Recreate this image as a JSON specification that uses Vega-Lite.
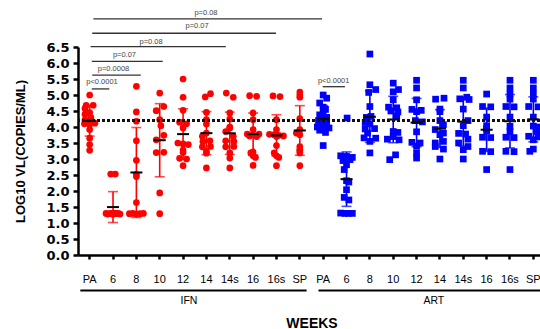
{
  "$schema": "https://vega.github.io/schema/vega-lite/v6.json",
  "width": 467,
  "height": 208,
  "autosize": {"type": "none"},
  "padding": {"left": 78, "top": 47, "right": 0, "bottom": 74},
  "config": {
    "view": {"stroke": null},
    "axis": {"grid": false, "domainColor": "black", "tickColor": "black", "labelColor": "black", "titleColor": "black"},
    "axisX": {"labelFont": "Liberation Sans", "labelFontSize": 11, "labelPadding": 14, "tickSize": 4, "tickWidth": 2.5, "domainWidth": 2.5, "labelAngle": 0, "labelOverlap": false, "labelBound": false, "titleFont": "Liberation Sans", "titleFontSize": 14, "titleFontWeight": "bold", "titlePadding": 32},
    "axisY": {"labelFont": "DejaVu Sans", "labelFontWeight": "bold", "labelFontSize": 13, "labelPadding": 4, "tickSize": 5, "tickWidth": 2.5, "domainWidth": 2.5, "labelOverlap": false, "titleFont": "Liberation Sans", "titleFontSize": 13, "titleFontWeight": "bold", "titlePadding": 18}
  },
  "datasets": {
    "pts": [
      {"g":"IFN","c":"IFN|PA","v":5.0,"j":0},{"g":"IFN","c":"IFN|PA","v":4.68,"j":-0.3},{"g":"IFN","c":"IFN|PA","v":4.68,"j":0.3},{"g":"IFN","c":"IFN|PA","v":4.58,"j":-0.4},{"g":"IFN","c":"IFN|PA","v":4.45,"j":0},{"g":"IFN","c":"IFN|PA","v":4.4,"j":-0.4},{"g":"IFN","c":"IFN|PA","v":4.3,"j":0.1},{"g":"IFN","c":"IFN|PA","v":4.22,"j":-0.4},{"g":"IFN","c":"IFN|PA","v":4.1,"j":-0.45},{"g":"IFN","c":"IFN|PA","v":4.12,"j":0.45},{"g":"IFN","c":"IFN|PA","v":4.08,"j":0},{"g":"IFN","c":"IFN|PA","v":3.92,"j":0},{"g":"IFN","c":"IFN|PA","v":3.65,"j":0},{"g":"IFN","c":"IFN|PA","v":3.45,"j":0},{"g":"IFN","c":"IFN|PA","v":3.27,"j":0},
      {"g":"IFN","c":"IFN|6","v":2.53,"j":-0.2},{"g":"IFN","c":"IFN|6","v":2.53,"j":0.2},{"g":"IFN","c":"IFN|6","v":1.3,"j":-0.6},{"g":"IFN","c":"IFN|6","v":1.28,"j":-0.45},{"g":"IFN","c":"IFN|6","v":1.29,"j":-0.3},{"g":"IFN","c":"IFN|6","v":1.3,"j":-0.15},{"g":"IFN","c":"IFN|6","v":1.27,"j":0},{"g":"IFN","c":"IFN|6","v":1.31,"j":0.15},{"g":"IFN","c":"IFN|6","v":1.29,"j":0.3},{"g":"IFN","c":"IFN|6","v":1.3,"j":0.45},{"g":"IFN","c":"IFN|6","v":1.28,"j":0.6},{"g":"IFN","c":"IFN|6","v":1.29,"j":0},
      {"g":"IFN","c":"IFN|8","v":5.27,"j":0},{"g":"IFN","c":"IFN|8","v":4.47,"j":0},{"g":"IFN","c":"IFN|8","v":4.18,"j":0},{"g":"IFN","c":"IFN|8","v":3.57,"j":0},{"g":"IFN","c":"IFN|8","v":2.96,"j":0},{"g":"IFN","c":"IFN|8","v":2.52,"j":0},{"g":"IFN","c":"IFN|8","v":2.45,"j":0},{"g":"IFN","c":"IFN|8","v":1.64,"j":0},{"g":"IFN","c":"IFN|8","v":1.29,"j":-0.6},{"g":"IFN","c":"IFN|8","v":1.3,"j":-0.3},{"g":"IFN","c":"IFN|8","v":1.28,"j":0},{"g":"IFN","c":"IFN|8","v":1.29,"j":0.3},{"g":"IFN","c":"IFN|8","v":1.3,"j":0.6},
      {"g":"IFN","c":"IFN|10","v":5.06,"j":0},{"g":"IFN","c":"IFN|10","v":4.64,"j":0.35},{"g":"IFN","c":"IFN|10","v":4.51,"j":-0.3},{"g":"IFN","c":"IFN|10","v":4.23,"j":0},{"g":"IFN","c":"IFN|10","v":4.04,"j":0.1},{"g":"IFN","c":"IFN|10","v":3.74,"j":0.35},{"g":"IFN","c":"IFN|10","v":3.6,"j":-0.3},{"g":"IFN","c":"IFN|10","v":3.21,"j":0.35},{"g":"IFN","c":"IFN|10","v":3.2,"j":-0.3},{"g":"IFN","c":"IFN|10","v":1.94,"j":0},{"g":"IFN","c":"IFN|10","v":1.29,"j":0},
      {"g":"IFN","c":"IFN|12","v":5.5,"j":0},{"g":"IFN","c":"IFN|12","v":4.93,"j":0},{"g":"IFN","c":"IFN|12","v":4.52,"j":0},{"g":"IFN","c":"IFN|12","v":4.15,"j":-0.3},{"g":"IFN","c":"IFN|12","v":4.1,"j":0.3},{"g":"IFN","c":"IFN|12","v":3.97,"j":0},{"g":"IFN","c":"IFN|12","v":3.5,"j":-0.45},{"g":"IFN","c":"IFN|12","v":3.47,"j":0},{"g":"IFN","c":"IFN|12","v":3.45,"j":0.45},{"g":"IFN","c":"IFN|12","v":3.28,"j":0},{"g":"IFN","c":"IFN|12","v":3.2,"j":0},{"g":"IFN","c":"IFN|12","v":3.02,"j":-0.3},{"g":"IFN","c":"IFN|12","v":3.0,"j":0.3},{"g":"IFN","c":"IFN|12","v":2.79,"j":0},
      {"g":"IFN","c":"IFN|14","v":5.04,"j":0.35},{"g":"IFN","c":"IFN|14","v":4.94,"j":-0.1},{"g":"IFN","c":"IFN|14","v":4.46,"j":0},{"g":"IFN","c":"IFN|14","v":4.23,"j":0},{"g":"IFN","c":"IFN|14","v":4.09,"j":0},{"g":"IFN","c":"IFN|14","v":3.81,"j":0},{"g":"IFN","c":"IFN|14","v":3.71,"j":-0.35},{"g":"IFN","c":"IFN|14","v":3.57,"j":0.3},{"g":"IFN","c":"IFN|14","v":3.55,"j":-0.3},{"g":"IFN","c":"IFN|14","v":3.39,"j":0.35},{"g":"IFN","c":"IFN|14","v":3.38,"j":-0.35},{"g":"IFN","c":"IFN|14","v":3.24,"j":0},{"g":"IFN","c":"IFN|14","v":3.18,"j":0},{"g":"IFN","c":"IFN|14","v":2.72,"j":0},
      {"g":"IFN","c":"IFN|14s","v":5.06,"j":-0.3},{"g":"IFN","c":"IFN|14s","v":4.93,"j":0.3},{"g":"IFN","c":"IFN|14s","v":4.44,"j":0},{"g":"IFN","c":"IFN|14s","v":4.25,"j":0},{"g":"IFN","c":"IFN|14s","v":4.0,"j":0},{"g":"IFN","c":"IFN|14s","v":3.97,"j":0},{"g":"IFN","c":"IFN|14s","v":3.86,"j":-0.35},{"g":"IFN","c":"IFN|14s","v":3.71,"j":0.3},{"g":"IFN","c":"IFN|14s","v":3.57,"j":-0.35},{"g":"IFN","c":"IFN|14s","v":3.55,"j":0.35},{"g":"IFN","c":"IFN|14s","v":3.39,"j":0.35},{"g":"IFN","c":"IFN|14s","v":3.38,"j":-0.35},{"g":"IFN","c":"IFN|14s","v":3.19,"j":0},{"g":"IFN","c":"IFN|14s","v":3.03,"j":0},{"g":"IFN","c":"IFN|14s","v":2.72,"j":0},
      {"g":"IFN","c":"IFN|16","v":4.98,"j":-0.3},{"g":"IFN","c":"IFN|16","v":4.96,"j":0.3},{"g":"IFN","c":"IFN|16","v":4.44,"j":0},{"g":"IFN","c":"IFN|16","v":4.23,"j":0},{"g":"IFN","c":"IFN|16","v":3.92,"j":0},{"g":"IFN","c":"IFN|16","v":3.78,"j":-0.5},{"g":"IFN","c":"IFN|16","v":3.78,"j":0.5},{"g":"IFN","c":"IFN|16","v":3.76,"j":0},{"g":"IFN","c":"IFN|16","v":3.72,"j":-0.3},{"g":"IFN","c":"IFN|16","v":3.7,"j":0.3},{"g":"IFN","c":"IFN|16","v":3.22,"j":0},{"g":"IFN","c":"IFN|16","v":3.19,"j":-0.2},{"g":"IFN","c":"IFN|16","v":3.1,"j":0},{"g":"IFN","c":"IFN|16","v":3.05,"j":0.2},{"g":"IFN","c":"IFN|16","v":2.8,"j":0},
      {"g":"IFN","c":"IFN|16s","v":4.97,"j":-0.3},{"g":"IFN","c":"IFN|16s","v":4.95,"j":0.3},{"g":"IFN","c":"IFN|16s","v":4.23,"j":0},{"g":"IFN","c":"IFN|16s","v":3.92,"j":0},{"g":"IFN","c":"IFN|16s","v":3.77,"j":-0.6},{"g":"IFN","c":"IFN|16s","v":3.76,"j":-0.2},{"g":"IFN","c":"IFN|16s","v":3.74,"j":0.2},{"g":"IFN","c":"IFN|16s","v":3.72,"j":0.6},{"g":"IFN","c":"IFN|16s","v":3.7,"j":0},{"g":"IFN","c":"IFN|16s","v":3.42,"j":0},{"g":"IFN","c":"IFN|16s","v":3.19,"j":-0.2},{"g":"IFN","c":"IFN|16s","v":3.1,"j":0},{"g":"IFN","c":"IFN|16s","v":3.05,"j":0.2},{"g":"IFN","c":"IFN|16s","v":2.79,"j":0},
      {"g":"IFN","c":"IFN|SP","v":5.09,"j":0},{"g":"IFN","c":"IFN|SP","v":5.0,"j":0},{"g":"IFN","c":"IFN|SP","v":4.93,"j":0},{"g":"IFN","c":"IFN|SP","v":4.26,"j":0},{"g":"IFN","c":"IFN|SP","v":3.92,"j":0},{"g":"IFN","c":"IFN|SP","v":3.81,"j":-0.3},{"g":"IFN","c":"IFN|SP","v":3.76,"j":0},{"g":"IFN","c":"IFN|SP","v":3.39,"j":0},{"g":"IFN","c":"IFN|SP","v":3.3,"j":0},{"g":"IFN","c":"IFN|SP","v":3.26,"j":0},{"g":"IFN","c":"IFN|SP","v":3.19,"j":0},{"g":"IFN","c":"IFN|SP","v":2.79,"j":0},
      {"g":"ART","c":"ART|PA","v":5.0,"j":0},{"g":"ART","c":"ART|PA","v":4.9,"j":0.3},{"g":"ART","c":"ART|PA","v":4.75,"j":-0.3},{"g":"ART","c":"ART|PA","v":4.62,"j":0},{"g":"ART","c":"ART|PA","v":4.55,"j":0.2},{"g":"ART","c":"ART|PA","v":4.5,"j":0},{"g":"ART","c":"ART|PA","v":4.38,"j":-0.3},{"g":"ART","c":"ART|PA","v":4.3,"j":0.3},{"g":"ART","c":"ART|PA","v":4.25,"j":0},{"g":"ART","c":"ART|PA","v":4.2,"j":-0.4},{"g":"ART","c":"ART|PA","v":4.15,"j":0.3},{"g":"ART","c":"ART|PA","v":4.08,"j":0},{"g":"ART","c":"ART|PA","v":4.0,"j":-0.5},{"g":"ART","c":"ART|PA","v":3.97,"j":0.5},{"g":"ART","c":"ART|PA","v":3.95,"j":0},{"g":"ART","c":"ART|PA","v":3.9,"j":-0.3},{"g":"ART","c":"ART|PA","v":3.83,"j":0.2},{"g":"ART","c":"ART|PA","v":3.42,"j":0},
      {"g":"ART","c":"ART|6","v":4.28,"j":0.05},{"g":"ART","c":"ART|6","v":3.1,"j":-0.5},{"g":"ART","c":"ART|6","v":3.08,"j":0},{"g":"ART","c":"ART|6","v":3.05,"j":0.5},{"g":"ART","c":"ART|6","v":2.98,"j":0.3},{"g":"ART","c":"ART|6","v":2.95,"j":-0.3},{"g":"ART","c":"ART|6","v":2.82,"j":0},{"g":"ART","c":"ART|6","v":2.67,"j":-0.2},{"g":"ART","c":"ART|6","v":2.32,"j":0},{"g":"ART","c":"ART|6","v":2.28,"j":0.2},{"g":"ART","c":"ART|6","v":2.04,"j":0},{"g":"ART","c":"ART|6","v":1.8,"j":-0.2},{"g":"ART","c":"ART|6","v":1.72,"j":0.2},{"g":"ART","c":"ART|6","v":1.31,"j":-0.5},{"g":"ART","c":"ART|6","v":1.3,"j":-0.15},{"g":"ART","c":"ART|6","v":1.3,"j":0.15},{"g":"ART","c":"ART|6","v":1.3,"j":0.5},
      {"g":"ART","c":"ART|8","v":6.28,"j":0},{"g":"ART","c":"ART|8","v":5.32,"j":0},{"g":"ART","c":"ART|8","v":5.17,"j":0.5},{"g":"ART","c":"ART|8","v":5.08,"j":-0.1},{"g":"ART","c":"ART|8","v":4.64,"j":0},{"g":"ART","c":"ART|8","v":4.33,"j":0.1},{"g":"ART","c":"ART|8","v":4.3,"j":-0.3},{"g":"ART","c":"ART|8","v":4.14,"j":-0.4},{"g":"ART","c":"ART|8","v":4.1,"j":0},{"g":"ART","c":"ART|8","v":3.95,"j":0.4},{"g":"ART","c":"ART|8","v":3.94,"j":-0.4},{"g":"ART","c":"ART|8","v":3.81,"j":-0.2},{"g":"ART","c":"ART|8","v":3.66,"j":-0.5},{"g":"ART","c":"ART|8","v":3.65,"j":0.5},{"g":"ART","c":"ART|8","v":3.55,"j":0},{"g":"ART","c":"ART|8","v":3.19,"j":0},
      {"g":"ART","c":"ART|10","v":5.37,"j":0},{"g":"ART","c":"ART|10","v":5.17,"j":0.45},{"g":"ART","c":"ART|10","v":5.1,"j":0},{"g":"ART","c":"ART|10","v":4.85,"j":0},{"g":"ART","c":"ART|10","v":4.62,"j":-0.4},{"g":"ART","c":"ART|10","v":4.6,"j":0.3},{"g":"ART","c":"ART|10","v":4.5,"j":-0.2},{"g":"ART","c":"ART|10","v":4.47,"j":0.4},{"g":"ART","c":"ART|10","v":4.35,"j":0.3},{"g":"ART","c":"ART|10","v":3.86,"j":0},{"g":"ART","c":"ART|10","v":3.83,"j":0.4},{"g":"ART","c":"ART|10","v":3.7,"j":0},{"g":"ART","c":"ART|10","v":3.62,"j":-0.5},{"g":"ART","c":"ART|10","v":3.6,"j":0.5},{"g":"ART","c":"ART|10","v":3.13,"j":0.2},{"g":"ART","c":"ART|10","v":2.98,"j":-0.3},
      {"g":"ART","c":"ART|12","v":5.46,"j":0},{"g":"ART","c":"ART|12","v":5.22,"j":0},{"g":"ART","c":"ART|12","v":4.85,"j":0},{"g":"ART","c":"ART|12","v":4.55,"j":-0.4},{"g":"ART","c":"ART|12","v":4.52,"j":0.4},{"g":"ART","c":"ART|12","v":4.48,"j":0},{"g":"ART","c":"ART|12","v":4.2,"j":-0.1},{"g":"ART","c":"ART|12","v":4.16,"j":0.5},{"g":"ART","c":"ART|12","v":3.85,"j":0},{"g":"ART","c":"ART|12","v":3.52,"j":-0.4},{"g":"ART","c":"ART|12","v":3.5,"j":0.3},{"g":"ART","c":"ART|12","v":3.4,"j":0},{"g":"ART","c":"ART|12","v":3.19,"j":0},{"g":"ART","c":"ART|12","v":3.03,"j":0},
      {"g":"ART","c":"ART|14","v":4.9,"j":0.35},{"g":"ART","c":"ART|14","v":4.87,"j":-0.37},{"g":"ART","c":"ART|14","v":4.56,"j":0},{"g":"ART","c":"ART|14","v":4.48,"j":0},{"g":"ART","c":"ART|14","v":4.2,"j":0},{"g":"ART","c":"ART|14","v":4.07,"j":0.3},{"g":"ART","c":"ART|14","v":3.92,"j":-0.4},{"g":"ART","c":"ART|14","v":3.81,"j":0.3},{"g":"ART","c":"ART|14","v":3.76,"j":0},{"g":"ART","c":"ART|14","v":3.55,"j":0.3},{"g":"ART","c":"ART|14","v":3.5,"j":-0.4},{"g":"ART","c":"ART|14","v":3.39,"j":-0.4},{"g":"ART","c":"ART|14","v":3.31,"j":0.3},{"g":"ART","c":"ART|14","v":3.0,"j":0},
      {"g":"ART","c":"ART|14s","v":5.46,"j":0},{"g":"ART","c":"ART|14s","v":5.22,"j":0},{"g":"ART","c":"ART|14s","v":4.93,"j":0.3},{"g":"ART","c":"ART|14s","v":4.88,"j":-0.3},{"g":"ART","c":"ART|14s","v":4.86,"j":0.5},{"g":"ART","c":"ART|14s","v":4.56,"j":0},{"g":"ART","c":"ART|14s","v":4.2,"j":0.4},{"g":"ART","c":"ART|14s","v":4.04,"j":0},{"g":"ART","c":"ART|14s","v":3.8,"j":-0.4},{"g":"ART","c":"ART|14s","v":3.78,"j":0.2},{"g":"ART","c":"ART|14s","v":3.62,"j":0.4},{"g":"ART","c":"ART|14s","v":3.5,"j":-0.4},{"g":"ART","c":"ART|14s","v":3.39,"j":0.4},{"g":"ART","c":"ART|14s","v":3.29,"j":0},{"g":"ART","c":"ART|14s","v":3.0,"j":0},
      {"g":"ART","c":"ART|16","v":5.03,"j":0},{"g":"ART","c":"ART|16","v":4.64,"j":-0.35},{"g":"ART","c":"ART|16","v":4.63,"j":0.35},{"g":"ART","c":"ART|16","v":4.31,"j":0},{"g":"ART","c":"ART|16","v":4.04,"j":0},{"g":"ART","c":"ART|16","v":3.95,"j":0},{"g":"ART","c":"ART|16","v":3.88,"j":0},{"g":"ART","c":"ART|16","v":3.68,"j":-0.35},{"g":"ART","c":"ART|16","v":3.67,"j":0.35},{"g":"ART","c":"ART|16","v":3.24,"j":-0.35},{"g":"ART","c":"ART|16","v":3.23,"j":0.35},{"g":"ART","c":"ART|16","v":2.67,"j":0},
      {"g":"ART","c":"ART|16s","v":5.46,"j":0},{"g":"ART","c":"ART|16s","v":5.22,"j":0},{"g":"ART","c":"ART|16s","v":5.03,"j":0},{"g":"ART","c":"ART|16s","v":4.87,"j":0},{"g":"ART","c":"ART|16s","v":4.64,"j":-0.35},{"g":"ART","c":"ART|16s","v":4.63,"j":0.35},{"g":"ART","c":"ART|16s","v":4.31,"j":0},{"g":"ART","c":"ART|16s","v":4.02,"j":0},{"g":"ART","c":"ART|16s","v":3.86,"j":0},{"g":"ART","c":"ART|16s","v":3.68,"j":-0.35},{"g":"ART","c":"ART|16s","v":3.67,"j":0.35},{"g":"ART","c":"ART|16s","v":3.24,"j":-0.35},{"g":"ART","c":"ART|16s","v":3.23,"j":0.35},{"g":"ART","c":"ART|16s","v":2.67,"j":0},
      {"g":"ART","c":"ART|SP","v":5.46,"j":0},{"g":"ART","c":"ART|SP","v":5.22,"j":0},{"g":"ART","c":"ART|SP","v":5.03,"j":0},{"g":"ART","c":"ART|SP","v":4.87,"j":0},{"g":"ART","c":"ART|SP","v":4.64,"j":-0.4},{"g":"ART","c":"ART|SP","v":4.63,"j":0.4},{"g":"ART","c":"ART|SP","v":4.31,"j":0},{"g":"ART","c":"ART|SP","v":4.03,"j":0},{"g":"ART","c":"ART|SP","v":4.0,"j":0.4},{"g":"ART","c":"ART|SP","v":3.86,"j":0.3},{"g":"ART","c":"ART|SP","v":3.71,"j":-0.4},{"g":"ART","c":"ART|SP","v":3.69,"j":0.4},{"g":"ART","c":"ART|SP","v":3.6,"j":0},{"g":"ART","c":"ART|SP","v":3.31,"j":0},{"g":"ART","c":"ART|SP","v":3.24,"j":-0.3}
    ],
    "br": [
      {"a":0.09,"b":0.84,"y":5.19,"t":"p<0.0001","tx":0.53,"ty":5.42},
      {"a":0.11,"b":2.19,"y":5.62,"t":"p=0.0008","tx":1.02,"ty":5.81},
      {"a":0.09,"b":3.13,"y":6.05,"t":"p=0.07","tx":1.49,"ty":6.25},
      {"a":0.04,"b":5.83,"y":6.51,"t":"p=0.08","tx":2.63,"ty":6.67},
      {"a":0.11,"b":7.98,"y":6.93,"t":"p=0.07","tx":4.6,"ty":7.16},
      {"a":0.16,"b":9.95,"y":7.38,"t":"p=0.08","tx":4.98,"ty":7.55},
      {"a":9.98,"b":10.93,"y":5.26,"t":"p<0.0001","tx":10.45,"ty":5.45}
    ],
    "gr": [
      {"a":-0.4,"b":9.29,"y":-1.11,"t":"IFN","tx":4.25,"ty":-1.43},
      {"a":9.8,"b":19.5,"y":-1.11,"t":"ART","tx":14.74,"ty":-1.43}
    ]
  },
  "resolve": {"scale": {"x": "independent"}, "axis": {"x": "independent"}},
  "layer": [
    {
      "data": {"name": "pts"},
      "layer": [
        {
          "mark": {"type": "point", "filled": true, "size": 45, "opacity": 1},
          "encoding": {
            "x": {"field": "c", "type": "nominal", "title": "WEEKS",
              "scale": {"domain": ["IFN|PA","IFN|6","IFN|8","IFN|10","IFN|12","IFN|14","IFN|14s","IFN|16","IFN|16s","IFN|SP","ART|PA","ART|6","ART|8","ART|10","ART|12","ART|14","ART|14s","ART|16","ART|16s","ART|SP"], "paddingInner": 0, "paddingOuter": 0},
              "axis": {"labelExpr": "split(datum.label, '|')[1]"}},
            "xOffset": {"field": "j", "type": "quantitative", "scale": {"domain": [-1, 1], "nice": false, "zero": false}},
            "y": {"field": "v", "type": "quantitative", "title": "LOG10 VL(COPIES/ML)",
              "scale": {"domain": [0, 6.5], "nice": false, "zero": true},
              "axis": {"values": [0,0.5,1,1.5,2,2.5,3,3.5,4,4.5,5,5.5,6,6.5], "format": ".1f"}},
            "color": {"field": "g", "type": "nominal", "scale": {"domain": ["IFN","ART"], "range": ["#ff0000","#0000ff"]}, "legend": null},
            "shape": {"field": "g", "type": "nominal", "scale": {"domain": ["IFN","ART"], "range": ["circle","square"]}, "legend": null}
          }
        },
        {
          "mark": {"type": "errorbar", "extent": "stdev", "thickness": 1.6, "ticks": {"size": 10, "thickness": 1.6}},
          "encoding": {
            "x": {"field": "c", "type": "nominal", "title": "WEEKS",
              "scale": {"domain": ["IFN|PA","IFN|6","IFN|8","IFN|10","IFN|12","IFN|14","IFN|14s","IFN|16","IFN|16s","IFN|SP","ART|PA","ART|6","ART|8","ART|10","ART|12","ART|14","ART|14s","ART|16","ART|16s","ART|SP"], "paddingInner": 0, "paddingOuter": 0},
              "axis": {"labelExpr": "split(datum.label, '|')[1]"}},
            "y": {"field": "v", "type": "quantitative", "title": "LOG10 VL(COPIES/ML)", "scale": {"domain": [0, 6.5], "nice": false, "zero": true},
              "axis": {"values": [0,0.5,1,1.5,2,2.5,3,3.5,4,4.5,5,5.5,6,6.5], "format": ".1f"}},
            "color": {"field": "g", "type": "nominal", "scale": {"domain": ["IFN","ART"], "range": ["#ff0000","#0000ff"]}, "legend": null}
          }
        },
        {
          "mark": {"type": "tick", "color": "black", "size": 12, "thickness": 2},
          "encoding": {
            "x": {"field": "c", "type": "nominal", "title": "WEEKS",
              "scale": {"domain": ["IFN|PA","IFN|6","IFN|8","IFN|10","IFN|12","IFN|14","IFN|14s","IFN|16","IFN|16s","IFN|SP","ART|PA","ART|6","ART|8","ART|10","ART|12","ART|14","ART|14s","ART|16","ART|16s","ART|SP"], "paddingInner": 0, "paddingOuter": 0},
              "axis": {"labelExpr": "split(datum.label, '|')[1]"}},
            "y": {"aggregate": "mean", "field": "v", "type": "quantitative", "title": "LOG10 VL(COPIES/ML)", "scale": {"domain": [0, 6.5], "nice": false, "zero": true},
              "axis": {"values": [0,0.5,1,1.5,2,2.5,3,3.5,4,4.5,5,5.5,6,6.5], "format": ".1f"}}
          }
        },
        {
          "mark": {"type": "rule", "color": "#111111", "strokeWidth": 2.2, "strokeDash": [3, 2]},
          "encoding": {"y": {"datum": 4.2, "type": "quantitative", "title": "LOG10 VL(COPIES/ML)",
              "axis": {"values": [0,0.5,1,1.5,2,2.5,3,3.5,4,4.5,5,5.5,6,6.5], "format": ".1f"}}}
        }
      ]
    },
    {
      "layer": [
        {
          "data": {"name": "br"},
          "mark": {"type": "rule", "color": "#333333", "strokeWidth": 1.3},
          "encoding": {
            "x": {"field": "a", "type": "quantitative", "scale": {"domain": [-0.5, 19.5], "nice": false, "zero": false}, "axis": null},
            "x2": {"field": "b"},
            "y": {"field": "y", "type": "quantitative", "title": "LOG10 VL(COPIES/ML)", "scale": {"domain": [0, 6.5], "nice": false, "zero": true},
              "axis": {"values": [0,0.5,1,1.5,2,2.5,3,3.5,4,4.5,5,5.5,6,6.5], "format": ".1f"}}
          }
        },
        {
          "data": {"name": "br"},
          "mark": {"type": "text", "font": "Liberation Sans", "fontSize": 7.5, "color": "#444444", "baseline": "middle", "align": "center"},
          "encoding": {
            "x": {"field": "tx", "type": "quantitative", "scale": {"domain": [-0.5, 19.5], "nice": false, "zero": false}, "axis": null},
            "y": {"field": "ty", "type": "quantitative", "title": "LOG10 VL(COPIES/ML)", "scale": {"domain": [0, 6.5], "nice": false, "zero": true},
              "axis": {"values": [0,0.5,1,1.5,2,2.5,3,3.5,4,4.5,5,5.5,6,6.5], "format": ".1f"}},
            "text": {"field": "t"}
          }
        },
        {
          "data": {"name": "gr"},
          "mark": {"type": "rule", "color": "black", "strokeWidth": 2},
          "encoding": {
            "x": {"field": "a", "type": "quantitative", "scale": {"domain": [-0.5, 19.5], "nice": false, "zero": false}, "axis": null},
            "x2": {"field": "b"},
            "y": {"field": "y", "type": "quantitative", "title": "LOG10 VL(COPIES/ML)", "scale": {"domain": [0, 6.5], "nice": false, "zero": true},
              "axis": {"values": [0,0.5,1,1.5,2,2.5,3,3.5,4,4.5,5,5.5,6,6.5], "format": ".1f"}}
          }
        },
        {
          "data": {"name": "gr"},
          "mark": {"type": "text", "font": "Liberation Sans", "fontSize": 10.5, "color": "black", "baseline": "middle", "align": "center"},
          "encoding": {
            "x": {"field": "tx", "type": "quantitative", "scale": {"domain": [-0.5, 19.5], "nice": false, "zero": false}, "axis": null},
            "y": {"field": "ty", "type": "quantitative", "title": "LOG10 VL(COPIES/ML)", "scale": {"domain": [0, 6.5], "nice": false, "zero": true},
              "axis": {"values": [0,0.5,1,1.5,2,2.5,3,3.5,4,4.5,5,5.5,6,6.5], "format": ".1f"}},
            "text": {"field": "t"}
          }
        }
      ]
    }
  ]
}
